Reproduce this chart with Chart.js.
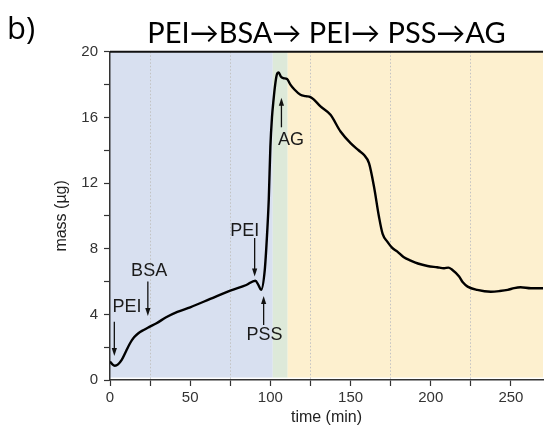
<!DOCTYPE html>
<html>
<head>
<meta charset="utf-8">
<script src="https://cdn.jsdelivr.net/npm/chart.js@4.4.1/dist/chart.umd.min.js"></script>
<style>
  html, body { margin: 0; padding: 0; background: #fff; }
  #chart-container { width: 544px; height: 430px; }
</style>
</head>
<body>
<div id="chart-container"><canvas id="myChart" width="544" height="430"></canvas></div>
<script>
// mass curve (time in min, mass in ug)
var times = [0, 1.5, 3, 5, 7.3, 10, 12.5, 15, 17.7, 21, 24, 29, 35, 42, 50, 62.5, 75, 85, 90.6, 92.5, 94.2,
    96.5, 97.9, 99, 100, 101, 102, 103, 104, 105.2, 106.5, 108, 110.4, 112.5, 115, 118.75, 122, 125, 127, 131.25,
    137.5, 143.75, 150, 155, 158.3, 161.5, 164.6, 167.7, 170, 172.9, 176, 179.2, 183, 187.5, 192, 198, 204,
    208.3, 211, 213, 217.7, 220, 223, 229, 237.5, 243, 248, 252, 256, 262.5, 270]
var mass = [1.12, 0.95, 0.87, 0.95, 1.22, 1.75, 2.24, 2.6, 2.85, 3.05, 3.21, 3.46, 3.82, 4.15, 4.43, 4.94, 5.45, 5.79, 6.05, 5.8, 5.49,
    6.7, 8.8, 11, 14.2, 16, 17.1, 18, 18.6, 18.74, 18.5, 18.4, 18.34, 18.0, 17.7, 17.38, 17.3, 17.24, 17.1, 16.67,
    16.16, 15.14, 14.43, 14.0, 13.72, 13.21, 11.79, 9.96, 8.9, 8.43, 8.05, 7.82, 7.5, 7.28, 7.1, 6.95, 6.87,
    6.81, 6.85, 6.75, 6.3, 5.95, 5.69, 5.49, 5.38, 5.42, 5.49, 5.6, 5.65, 5.59, 5.59]

// deposition stages shaded behind the curve
var stageStart = [0, 101.5, 110.8]
var stageEnd = [101.5, 110.8, 270]
var stageColors = ['#d8e0f0', '#dde9d9', '#fdf0cf']

// arrows with labels
var noteLabels = ['PEI', 'BSA', 'PEI', 'PSS', 'AG']
var noteTime = [2.7, 23.6, 90.2, 95.8, 106.9]
var noteFrom = [3.55, 6.0, 8.66, 3.35, 15.4]
var noteTo = [1.46, 3.9, 6.3, 5.12, 17.2]
var noteTextTime = [10.6, 24.4, 84, 96.3, 112.8]
var noteTextMass = [4.45, 6.65, 9.1, 2.74, 14.63]

var xTicks = [0, 50, 100, 150, 200, 250]
var yTicks = [0, 4, 8, 12, 16, 20]

Chart.defaults.font.family = "'Liberation Sans', Arial, sans-serif"

// white page + stage bands, drawn before the scales so the dotted grid sits on top
var bandsPlugin = {
    id: 'bands',
    beforeDraw: function (chart) {
        var ctx = chart.ctx
        var x = chart.scales.x
        var y = chart.scales.y
        ctx.save()
        ctx.fillStyle = '#fff'
        ctx.fillRect(0, 0, chart.width, chart.height)
        for (var i = 0; i < stageStart.length; i++)
        {
            var x1 = x.getPixelForValue(stageStart[i])
            var x2 = x.getPixelForValue(stageEnd[i])
            ctx.fillStyle = stageColors[i]
            ctx.fillRect(x1, y.getPixelForValue(20), x2 - x1, y.getPixelForValue(0.15) - y.getPixelForValue(20))
        }
        ctx.restore()
    }
}

var notesPlugin = {
    id: 'notes',
    afterDatasetsDraw: function (chart) {
        var ctx = chart.ctx
        var x = chart.scales.x
        var y = chart.scales.y
        ctx.save()
        ctx.strokeStyle = '#111'
        ctx.fillStyle = '#111'
        ctx.lineWidth = 1.3
        for (var i = 0; i < noteLabels.length; i++)
        {
            var px = x.getPixelForValue(noteTime[i])
            var y1 = y.getPixelForValue(noteFrom[i])
            var y2 = y.getPixelForValue(noteTo[i])
            var dir = y2 > y1 ? 1 : -1
            ctx.beginPath()
            ctx.moveTo(px, y1)
            ctx.lineTo(px, y2 - dir * 5)
            ctx.stroke()
            ctx.beginPath()
            ctx.moveTo(px, y2)
            ctx.lineTo(px - 2.6, y2 - dir * 8)
            ctx.lineTo(px + 2.6, y2 - dir * 8)
            ctx.closePath()
            ctx.fill()

            ctx.font = "18px 'Liberation Sans', Arial, sans-serif"
            ctx.textAlign = 'center'
            ctx.textBaseline = 'middle'
            ctx.fillStyle = '#1a1a1a'
            ctx.fillText(noteLabels[i], x.getPixelForValue(noteTextTime[i]), y.getPixelForValue(noteTextMass[i]))
            ctx.fillStyle = '#111'
        }

        // top frame line
        ctx.strokeStyle = '#111'
        ctx.lineWidth = 2
        ctx.beginPath()
        ctx.moveTo(chart.chartArea.left, y.getPixelForValue(20))
        ctx.lineTo(chart.chartArea.right, y.getPixelForValue(20))
        ctx.stroke()

        // panel letter
        ctx.fillStyle = '#000'
        ctx.font = "31px 'Open Sans', sans-serif"
        ctx.textAlign = 'left'
        ctx.textBaseline = 'middle'
        ctx.fillText('b)', 7, 30)
        ctx.restore()
    }
}

function createGraph () {
    var ctx = document.getElementById('myChart')
    var points = []
    for (var i = 0; i < times.length; i++)
    {
        points.push({x: times[i], y: mass[i]})
    }

    var myChart = new Chart(ctx, {
        type: 'line',
        data: {
            datasets: [{
                data: points,
                borderColor: '#000',
                borderWidth: 2.4,
                pointRadius: 0,
                fill: false,
                cubicInterpolationMode: 'monotone'
            }]
        },
        options: {
            responsive: false,
            animation: false,
            layout: { padding: { left: 0, right: 1, top: 0, bottom: 0 } },
            scales: {
                x: {
                    type: 'linear',
                    min: 0,
                    max: 270,
                    afterFit: function (s) { s.height = 50 },
                    ticks: {
                        stepSize: 25,
                        includeBounds: false,
                        autoSkip: false,
                        maxRotation: 0,
                        callback: function (v) { return xTicks.indexOf(v) >= 0 ? v : '' },
                        font: { size: 15 },
                        color: '#333',
                        padding: 3
                    },
                    grid: {
                        color: function (c) { return c.tick && c.tick.value % 50 == 25 ? '#c2c2c2' : 'rgba(0,0,0,0)' },
                        lineWidth: 1,
                        tickColor: '#333',
                        tickWidth: 1.2,
                        tickLength: 6,
                        tickBorderDash: []
                    },
                    border: { color: '#333', width: 1.5, dash: [1.5, 2] },
                    title: {
                        display: true,
                        text: 'time (min)',
                        font: { size: 16 },
                        color: '#222',
                        padding: { top: 0, bottom: 3 }
                    }
                },
                y: {
                    min: 0,
                    max: 20,
                    afterFit: function (s) { s.width = 110 },
                    ticks: {
                        stepSize: 2,
                        autoSkip: false,
                        callback: function (v) { return yTicks.indexOf(v) >= 0 ? v : '' },
                        font: { size: 15 },
                        color: '#333',
                        padding: 6
                    },
                    grid: {
                        drawOnChartArea: false,
                        tickColor: '#333',
                        tickWidth: 1.2,
                        tickLength: 6
                    },
                    border: { color: '#333', width: 1.5 },
                    title: {
                        display: true,
                        text: 'mass (µg)',
                        font: { size: 16 },
                        color: '#222',
                        padding: { top: 52, bottom: 0 }
                    }
                }
            },
            plugins: {
                legend: { display: false },
                tooltip: { enabled: false },
                title: {
                    display: true,
                    text: 'PEI→BSA→ PEI→ PSS→AG',
                    fullSize: false,
                    font: { size: 29, family: "Lato, 'Open Sans', sans-serif", weight: 'normal' },
                    color: '#000',
                    padding: { top: 16, bottom: 1 }
                }
            }
        },
        plugins: [bandsPlugin, notesPlugin]
    });
}

createGraph()
</script>
</body>
</html>
